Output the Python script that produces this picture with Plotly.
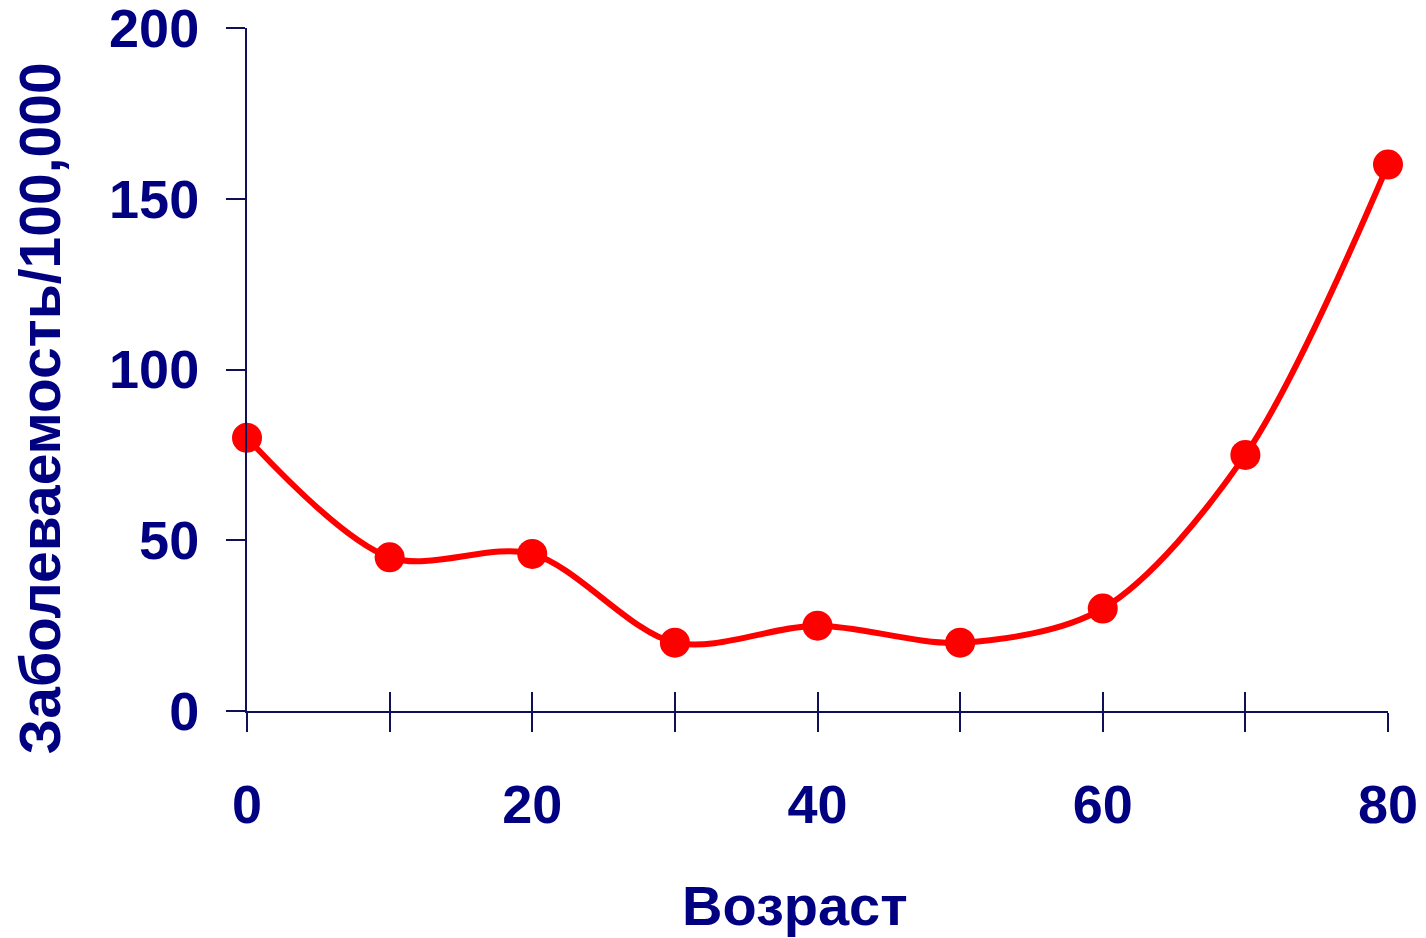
import plotly.graph_objects as go

age = [0, 10, 20, 30, 40, 50, 60, 70, 80]
rate = [80, 45, 46, 20, 25, 20, 30, 75, 160]
x_tickvals = [0, 10, 20, 30, 40, 50, 60, 70, 80]
x_ticktext = ["0", "", "20", "", "40", "", "60", "", "80"]
y_tickvals = [0, 50, 100, 150, 200]

NAVY = "#000080"
AXIS = "#10105a"
FONT = "Liberation Sans, Arial, sans-serif"

fig = go.Figure()
fig.add_trace(go.Scatter(
    x=age, y=rate, mode="lines+markers",
    line=dict(color="#ff0000", width=6, shape="spline", smoothing=0.9),
    marker=dict(color="#ff0000", size=30),
    cliponaxis=False, showlegend=False, hoverinfo="skip",
))
# invisible trace to anchor the overlay axis (for crossing ticks)
fig.add_trace(go.Scatter(x=[age[0]], y=[rate[0]], xaxis="x2", mode="markers",
                         marker=dict(opacity=0), showlegend=False, hoverinfo="skip"))

tickfont = dict(family=FONT, size=54, color=NAVY, weight="bold")

fig.update_layout(
    width=1426, height=938,
    margin=dict(l=239, r=46, t=20, b=235, autoexpand=False),
    paper_bgcolor="white", plot_bgcolor="white",
    xaxis=dict(range=[0, 80], tickvals=x_tickvals, ticktext=x_ticktext,
               ticks="outside", ticklen=19, tickwidth=2, tickcolor=AXIS,
               showline=True, linecolor=AXIS, linewidth=2,
               showgrid=False, zeroline=False, tickfont=tickfont,
               ticklabelstandoff=26, ticklabeloverflow="allow", automargin=False),
    xaxis2=dict(range=[0, 80], overlaying="x", anchor="y", side="bottom",
                tickvals=x_tickvals, ticks="inside", ticklen=19, tickwidth=2,
                tickcolor=AXIS, showticklabels=False, showline=False,
                showgrid=False, zeroline=False, automargin=False),
    yaxis=dict(range=[0, 200], tickvals=y_tickvals,
               ticks="outside", ticklen=19, tickwidth=2, tickcolor=AXIS,
               showline=True, linecolor=AXIS, linewidth=2,
               showgrid=False, zeroline=False, tickfont=tickfont,
               ticklabelstandoff=16, ticklabeloverflow="allow", automargin=False),
    annotations=[
        dict(text="Возраст", xref="paper", yref="paper", x=0.48, y=-0.2855,
             xanchor="center", yanchor="middle", showarrow=False,
             font=dict(family=FONT, size=56, color=NAVY, weight="bold")),
        dict(text="Заболеваемость/100,000", xref="paper", yref="paper",
             x=-0.181, y=0.4436, xanchor="center", yanchor="middle",
             textangle=-90, showarrow=False,
             font=dict(family=FONT, size=57, color=NAVY, weight="bold")),
    ],
)

fig.write_html("out.html")
